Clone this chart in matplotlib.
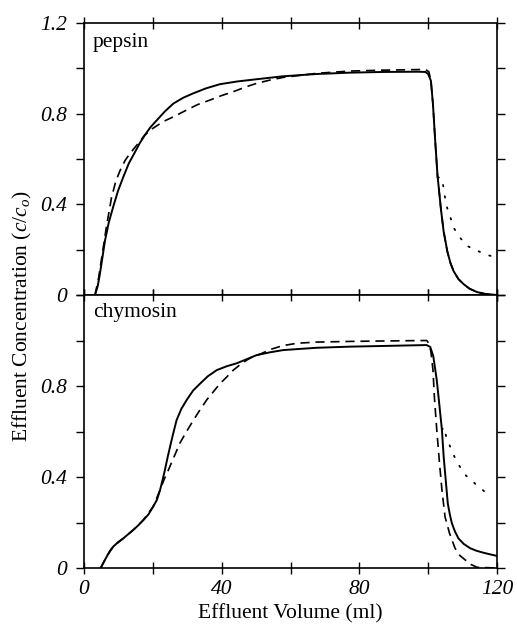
import matplotlib
matplotlib.use("Agg")
import matplotlib.pyplot as plt
from matplotlib.ticker import FixedLocator, FuncFormatter

plt.rcParams['font.family'] = ['Liberation Serif', 'DejaVu Serif']
plt.rcParams['mathtext.fontset'] = 'custom'
plt.rcParams['mathtext.rm'] = 'Liberation Serif'
plt.rcParams['mathtext.it'] = 'Liberation Serif:italic'

# ---------------- data ----------------
# pepsin - solid (experimental)
pep_solid_v = [3.2, 4.0, 4.65, 5.3, 6.1, 7.2, 8.5, 9.9, 11.4, 13.0, 14.8, 16.2, 17.7,
               19.3, 21.1, 23.5, 26.0, 28.8, 31.8, 35.5, 39.5, 44.5, 50.2, 57.9, 67.6,
               77.3, 87.0, 97.0, 99.2, 100.0, 100.8, 101.4, 102.0, 102.7, 103.7, 104.5,
               105.6, 106.5, 107.4, 108.8, 110.3, 112.0, 114.2, 116.5, 120.0]
pep_solid_c = [0.0, 0.04, 0.096, 0.16, 0.24, 0.32, 0.39, 0.46, 0.52, 0.58, 0.63, 0.67, 0.706,
               0.74, 0.77, 0.81, 0.845, 0.87, 0.89, 0.912, 0.93, 0.942, 0.952, 0.965, 0.975,
               0.981, 0.984, 0.985, 0.984, 0.975, 0.945, 0.84, 0.69, 0.53, 0.38, 0.28,
               0.19, 0.14, 0.105, 0.07, 0.048, 0.028, 0.013, 0.005, 0.0]
# pepsin - dashed (model 1)
pep_dash_v = [3.2, 4.3, 5.3, 6.5, 8.0, 9.2, 10.5, 12.0, 13.4, 15.8, 17.7, 20.0, 23.0,
              26.5, 29.8, 33.0, 36.6, 40.0, 43.4, 47.0, 50.2, 54.0, 57.9, 67.6, 77.3,
              87.0, 99.2, 100.2, 100.8, 101.4, 102.0, 102.7, 103.7, 104.5, 105.6, 106.5,
              107.4, 108.8, 110.3, 112.0, 114.2, 116.5, 120.0]
pep_dash_c = [0.0, 0.08, 0.18, 0.30, 0.43, 0.50, 0.55, 0.595, 0.625, 0.67, 0.706, 0.735, 0.765,
              0.79, 0.816, 0.84, 0.86, 0.88, 0.897, 0.918, 0.934, 0.948, 0.96, 0.978, 0.988,
              0.992, 0.995, 0.985, 0.945, 0.84, 0.69, 0.53, 0.38, 0.28, 0.19, 0.14,
              0.105, 0.07, 0.048, 0.028, 0.013, 0.005, 0.0]
# pepsin - dotted (model 2, tail)
pep_dot_v = [102.7, 104.0, 104.5, 104.9, 105.4, 106.4, 107.4, 109.0, 111.4, 114.3, 117.3, 120.0]
pep_dot_c = [0.52, 0.515, 0.47, 0.43, 0.39, 0.345, 0.297, 0.257, 0.216, 0.195, 0.176, 0.165]

# chymosin - solid
chy_solid_v = [4.85, 5.7, 6.6, 7.5, 8.5, 10.0, 11.4, 12.8, 14.3, 15.8, 17.2, 18.7, 20.1,
               21.2, 22.1, 22.8, 23.5, 24.2, 25.0, 25.9, 26.9, 28.3, 29.9, 31.7, 33.7,
               36.0, 38.6, 41.5, 44.4, 47.3, 50.2, 54.0, 57.9, 67.6, 77.3, 87.0, 99.5,
               100.6, 101.5, 102.5, 103.3, 104.0, 104.5, 105.1, 105.7, 106.3, 106.9,
               107.8, 108.8, 110.4, 112.2, 114.0, 116.1, 118.0, 120.0]
chy_solid_c = [0.0, 0.025, 0.05, 0.075, 0.094, 0.115, 0.13, 0.148, 0.167, 0.188, 0.21, 0.235,
               0.27, 0.30, 0.343, 0.385, 0.43, 0.48, 0.533, 0.59, 0.65, 0.70, 0.74, 0.78,
               0.81, 0.843, 0.87, 0.887, 0.90, 0.918, 0.936, 0.948, 0.958, 0.968, 0.973,
               0.976, 0.98, 0.972, 0.93, 0.826, 0.71, 0.607, 0.49, 0.387, 0.284, 0.235,
               0.196, 0.16, 0.13, 0.105, 0.087, 0.076, 0.067, 0.06, 0.053]
# chymosin - dashed
chy_dash_v = [4.85, 6.6, 8.5, 11.4, 14.3, 17.2, 20.1, 22.1, 23.3, 24.5, 26.2, 27.9, 29.8,
              31.8, 33.7, 35.7, 37.6, 39.5, 41.5, 43.4, 45.3, 47.3, 49.2, 51.2, 54.0,
              57.9, 62.0, 67.6, 77.3, 88.0, 99.6, 100.3, 100.8, 101.4, 101.8, 102.5,
              103.3, 104.0, 104.9, 106.2, 107.8, 109.2, 110.8, 112.5, 114.2, 120.0]
chy_dash_c = [0.0, 0.05, 0.094, 0.13, 0.167, 0.21, 0.27, 0.343, 0.39, 0.43, 0.49, 0.55, 0.60,
              0.65, 0.695, 0.74, 0.775, 0.81, 0.84, 0.87, 0.893, 0.914, 0.93, 0.94, 0.96,
              0.978, 0.988, 0.993, 0.996, 0.998, 1.0, 0.985, 0.95, 0.87, 0.753, 0.607,
              0.46, 0.343, 0.225, 0.153, 0.087, 0.055, 0.035, 0.015, 0.003, 0.0]
# chymosin - dotted
chy_dot_v = [104.0, 104.5, 105.2, 106.2, 107.6, 109.1, 111.0, 113.7, 116.6, 118.5]
chy_dot_c = [0.607, 0.62, 0.58, 0.54, 0.49, 0.448, 0.406, 0.37, 0.333, 0.32]

panel_names = ["pepsin", "chymosin"]
x_ticks = [0, 20, 40, 60, 80, 100, 120]
x_labels = {0: "0", 40: "40", 80: "80", 120: "120"}
y_ticks = [0, 0.2, 0.4, 0.6, 0.8, 1.0, 1.2]
y_labels_top = {0: "0", 0.4: "0.4", 0.8: "0.8", 1.2: "1.2"}
y_labels_bot = {0: "0", 0.4: "0.4", 0.8: "0.8"}
xlabel = "Effluent Volume (ml)"
ylabel = r"Effluent Concentration $(c/c_o)$"

# ---------------- figure ----------------
W, H = 517, 627
fig = plt.figure(figsize=(W / 100, H / 100), dpi=100)
left, right = 84 / W, 497 / W
top_y, mid_y, bot_y = 23, 295, 568
ax1 = fig.add_axes([left, 1 - mid_y / H, right - left, (mid_y - top_y) / H])
ax2 = fig.add_axes([left, 1 - bot_y / H, right - left, (bot_y - mid_y) / H])

FS = 15.5
series = [
    (ax1, pep_solid_v, pep_solid_c, pep_dash_v, pep_dash_c, pep_dot_v, pep_dot_c, y_labels_top),
    (ax2, chy_solid_v, chy_solid_c, chy_dash_v, chy_dash_c, chy_dot_v, chy_dot_c, y_labels_bot),
]
for i, (ax, sv, sc, dv, dc, pv, pc, ylabs) in enumerate(series):
    ax.plot(sv, sc, color='black', lw=1.4, solid_joinstyle='round', zorder=3)
    ax.plot(dv, dc, color='black', lw=1.2, linestyle=(0, (5.5, 3.5)), zorder=2)
    ax.plot(pv, pc, color='black', lw=1.3, linestyle=(0, (0.8, 5.5)),
            dash_capstyle='round', zorder=2)
    ax.set_xlim(0, 120)
    ax.set_ylim(0, 1.2)
    ax.xaxis.set_major_locator(FixedLocator(x_ticks))
    ax.yaxis.set_major_locator(FixedLocator(y_ticks))
    ax.yaxis.set_major_formatter(FuncFormatter(
        lambda v, p, d=ylabs: next((s for k, s in d.items() if abs(k - v) < 1e-6), "")))
    if i == 1:
        ax.xaxis.set_major_formatter(FuncFormatter(
            lambda v, p: next((s for k, s in x_labels.items() if abs(k - v) < 1e-6), "")))
    else:
        ax.tick_params(axis='x', labelbottom=False)
    ax.tick_params(axis='x', direction='inout', length=9, width=1.0, top=True,
                   labelsize=FS, pad=4)
    ax.tick_params(axis='y', direction='out', length=6, width=1.0, right=True,
                   labelsize=FS, pad=6)
    for lab in ax.get_xticklabels() + ax.get_yticklabels():
        lab.set_fontstyle('italic')
    for sp in ax.spines.values():
        sp.set_linewidth(1.2)
    ax.text(0.022, 0.93 if i == 0 else 0.935, panel_names[i], transform=ax.transAxes,
            fontsize=FS, ha='left', va='center')

fig.text((left + right) / 2, 1 - 614 / H, xlabel, fontsize=FS, ha='center', va='center')
fig.text(22 / W, 1 - 316 / H, ylabel, fontsize=FS, ha='center', va='center', rotation=90)

fig.savefig("out.png", dpi=100)
